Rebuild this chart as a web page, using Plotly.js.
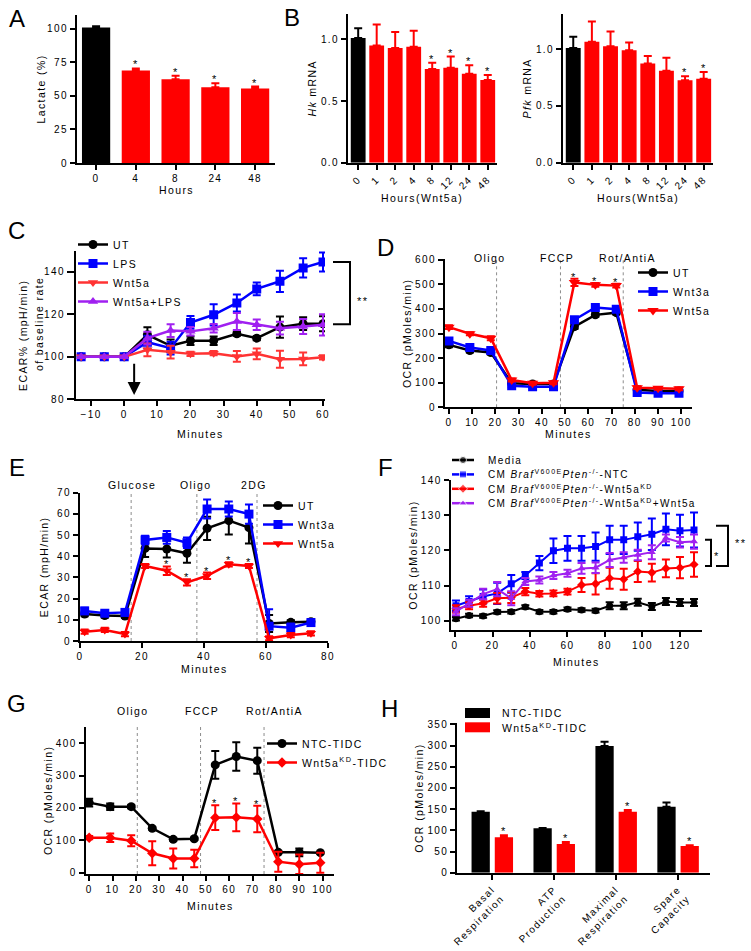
<!DOCTYPE html>
<html><head><meta charset="utf-8">
<script src="https://cdn.plot.ly/plotly-3.0.1.min.js"></script>
<style>html,body{margin:0;padding:0;background:#fff;} #fig{width:751px;height:951px;} svg text{letter-spacing:1.4px;}</style>
</head><body><div id="fig"></div>
<script>
// ---------- DATA ----------
const A_hours = ['0','4','8','24','48'];
const A_lactate = [101, 69, 62.5, 56.5, 55.5];
const A_err = [1, 1.5, 2.5, 3, 1.5];
const A_sig = [0, 1, 1, 1, 1];

const B_hours = ['0','1','2','4','8','12','24','48'];
const B_hk = [1.01, 0.95, 0.93, 0.94, 0.76, 0.77, 0.72, 0.67];
const B_hk_err = [0.08, 0.17, 0.13, 0.13, 0.05, 0.09, 0.07, 0.04];
const B_hk_sig = [0, 0, 0, 0, 1, 1, 1, 1];
const B_pfk = [1.01, 1.065, 1.026, 0.99, 0.874, 0.809, 0.727, 0.739];
const B_pfk_err = [0.10, 0.18, 0.13, 0.07, 0.065, 0.115, 0.035, 0.06];
const B_pfk_sig = [0, 0, 0, 0, 0, 0, 1, 1];

const C_min = [-13, -6, 0, 7, 14, 20, 27, 34, 40, 47, 54, 60];
const C_UT = [100, 100, 100, 110.4, 105.2, 107.6, 107.6, 110.9, 108.8, 114, 115.6, 115.6];
const C_UT_err = [0, 0, 0, 3.5, 3, 2, 2, 1, 1, 5, 3, 3.5];
const C_LPS = [100, 100, 100, 106.9, 104.1, 116.2, 119.8, 125.4, 132, 135.6, 141.9, 144.7];
const C_LPS_err = [0, 0, 0, 3, 3, 3, 5, 4, 3, 5, 4.5, 4.5];
const C_W5 = [100, 100, 100, 103.3, 102.2, 101.4, 101.7, 100.2, 101.4, 98.9, 99, 99.8];
const C_W5_err = [0, 0, 0, 3, 3, 1, 1, 2.5, 2.5, 4, 3, 1];
const C_W5L = [100, 100, 100, 108.8, 112.4, 112, 113.5, 116.7, 115.1, 113.5, 114.3, 115.1];
const C_W5L_err = [0, 0, 0, 3, 3, 2, 2, 4, 2.5, 3, 3.5, 5];

const D_min = [0, 9, 18, 27, 36, 45, 54, 63, 72, 81, 90, 99];
const D_UT = [254, 231, 223, 98, 95, 95, 328, 376, 385, 71, 66, 66];
const D_UT_err = [10, 8, 8, 8, 8, 8, 10, 8, 8, 6, 5, 5];
const D_W3 = [270, 243, 231, 88, 84, 84, 356, 406, 399, 60, 57, 57];
const D_W3_err = [8, 8, 8, 6, 6, 6, 8, 8, 6, 6, 6, 6];
const D_W5 = [326, 299, 281, 111, 98, 100, 508, 498, 495, 80, 77, 75];
const D_W5_err = [8, 6, 8, 6, 6, 6, 15, 8, 8, 6, 6, 6];
const D_sig = [0, 0, 0, 0, 0, 0, 1, 1, 1, 0, 0, 0];
const D_inject = [20.5, 48, 75];
const D_labels = ['Oligo', 'FCCP', 'Rot/AntiA'];
const D_labelPos = [17.7, 46.3, 76.8];

const E_min = [1.5, 8, 14.5, 21, 28, 34.5, 41, 48, 54.5, 61, 68, 74.5];
const E_UT = [12.7, 12, 11.8, 43.7, 43.4, 41.4, 53.2, 56.8, 53.5, 8.3, 8.8, 9.1];
const E_UT_err = [1, 1, 1, 4, 4, 4.5, 5.5, 6.5, 7.5, 4, 1, 1];
const E_W3 = [14.2, 13.1, 13.5, 47.7, 48.9, 46.4, 62.3, 62.3, 59.9, 7, 6.3, 8.7];
const E_W3_err = [1.5, 1, 1.5, 2, 3, 2.5, 4.5, 3.5, 4.5, 8, 2, 1];
const E_W5 = [4.4, 5.2, 3.3, 35.4, 33.2, 27.7, 30.8, 36.2, 35.4, 1.3, 2.8, 3.6];
const E_W5_err = [1, 1, 1, 1, 2, 1.5, 1.5, 1, 1, 1, 1, 1];
const E_sig = [0, 0, 0, 0, 1, 1, 1, 1, 1, 0, 0, 0];
const E_inject = [16.5, 37.7, 57.1];
const E_labels = ['Glucose', 'Oligo', '2DG'];
const E_labelPos = [16.7, 37.5, 56.2];

const F_min = [0.5, 7.5, 15, 22.5, 30, 37.5, 45, 52.5, 60, 67.5, 75, 82.5, 90, 97.5, 105, 112.5, 120, 127.5];
const F_media = [100.6, 101.5, 101.4, 102.5, 102.6, 103.9, 102.6, 102.6, 103.3, 103.1, 102.9, 104.3, 104.3, 105.3, 104.1, 105.5, 105.2, 105.2];
const F_media_err = [0.5, 0.5, 0.5, 0.5, 0.5, 0.5, 0.5, 0.5, 0.5, 0.5, 0.5, 1, 1, 1, 1, 1, 1, 1];
const F_NTC = [104.3, 105.5, 106.9, 107.8, 110.5, 112.9, 116.4, 119.9, 120.6, 120.6, 121.1, 123, 123, 123.9, 124.6, 126, 125.6, 125.8];
const F_NTC_err = [1.5, 1.5, 2, 3, 2.5, 1, 2, 3.5, 3.5, 3.5, 4, 4, 4, 4, 4.5, 4.5, 4.5, 5];
const F_KD = [103.4, 104.3, 105, 106.4, 106.6, 108.3, 107.7, 107.8, 108.3, 110.2, 110.5, 112.1, 111.8, 114, 113.7, 114.9, 115.1, 116];
const F_KD_err = [1, 1, 1, 1.5, 1.5, 1, 0.8, 0.8, 0.8, 2, 3, 3, 3, 3, 2.5, 2.5, 3, 3.5];
const F_KDW5 = [102.6, 105, 107.6, 109, 106.4, 111.2, 111.6, 112.9, 113.5, 114.9, 115.1, 117.3, 118, 118.7, 119.5, 123.5, 122.3, 122.5];
const F_KDW5_err = [1, 1, 1.5, 2, 2, 1, 1, 1, 1, 1.5, 1.5, 2, 1.5, 1.5, 2, 1, 1.5, 2];
const F_names = ['Media',
  'CM <i>Braf</i><sup>V600E</sup><i>Pten</i><sup>-/-</sup>-NTC',
  'CM <i>Braf</i><sup>V600E</sup><i>Pten</i><sup>-/-</sup>-Wnt5a<sup>KD</sup>',
  'CM <i>Braf</i><sup>V600E</sup><i>Pten</i><sup>-/-</sup>-Wnt5a<sup>KD</sup>+Wnt5a'];

const G_min = [0, 9, 18, 27, 36, 45, 54, 63, 72, 81, 90, 99];
const G_NTC = [216.5, 204, 204, 137, 103, 105, 333, 359, 346, 63, 63, 62];
const G_NTC_err = [12, 10, 5, 4, 4, 4, 43, 44, 40, 3, 12, 3];
const G_KD = [108, 108, 99, 60, 44, 44, 170, 171, 166, 34, 26, 31];
const G_KD_err = [5, 13, 17, 37, 31, 27, 38, 43, 41, 31, 30, 31];
const G_sig = [0, 0, 0, 0, 0, 0, 1, 1, 1, 0, 0, 0];
const G_inject = [20.6, 47.7, 74.9];
const G_labels = ['Oligo', 'FCCP', 'Rot/AntiA'];
const G_labelPos = [18.8, 48.4, 79.5];

const H_cats = ['Basal<br>Respiration', 'ATP<br>Production', 'Maximal<br>Respiration', 'Spare<br>Capacity'];
const H_NTC = [144, 104.6, 298.9, 155.7];
const H_NTC_err = [1, 1, 10, 10];
const H_KD = [83.4, 67.6, 144, 62.9];
const H_KD_err = [5, 5, 4, 2];
const H_sig = [1, 1, 1, 1];
const H_names = ['NTC-TIDC', 'Wnt5a<sup>KD</sup>-TIDC'];

// ---------- LAYOUT HELPERS ----------
const W = 751, HT = 951;
const FONT = 'Liberation Sans, Arial, Helvetica, sans-serif';
const px = x => x / W;
const py = y => 1 - y / HT;
const BLACK = '#000000', RED = '#ff0000', BLUE = '#0000ff', PURPLE = '#a020f0', LRED = '#ff3333';

const PANELS = {
  A: {x: [77, 275], y: [15, 163], xr: [-0.48, 4.5], yr: [0, 110.4]},
  B1: {x: [348, 497], y: [14, 162.7], xr: [-0.55, 7.5], yr: [0, 1.205]},
  B2: {x: [563, 713], y: [14, 162.7], xr: [-0.55, 7.5], yr: [0, 1.31]},
  C: {x: [76, 325], y: [250.7, 399.3], xr: [-14.55, 60.6], yr: [80, 150]},
  D: {x: [445, 692], y: [259.3, 407.3], xr: [-1.7, 104.6], yr: [0, 602]},
  E: {x: [80, 328], y: [492.7, 641], xr: [0, 80], yr: [0, 70]},
  F: {x: [450.7, 701.7], y: [480, 630], xr: [-2.3, 131.6], yr: [97.4, 140]},
  G: {x: [85.7, 334.3], y: [726.7, 874], xr: [-1.5, 105], yr: [-4, 451]},
  H: {x: [457.3, 710], y: [723.3, 872.7], xr: [-0.56, 3.52], yr: [0, 352.5]}
};
function valY(p, v) { const P = PANELS[p]; const f = (v - P.yr[0]) / (P.yr[1] - P.yr[0]); return py(P.y[1] - f * (P.y[1] - P.y[0])); }

function xax(p, n, extra) {
  const P = PANELS[p];
  return Object.assign({domain: [px(P.x[0]), px(P.x[1])], range: P.xr, anchor: 'y' + n,
    showline: true, linecolor: BLACK, linewidth: 2, ticks: 'outside', ticklen: 5, tickwidth: 2, tickcolor: BLACK,
    showgrid: false, zeroline: false, tickfont: {size: 10, color: BLACK, family: FONT}, fixedrange: true}, extra || {});
}
function yax(p, n, extra) {
  const P = PANELS[p];
  return Object.assign({domain: [py(P.y[1]), py(P.y[0])], range: P.yr, anchor: 'x' + n,
    showline: true, linecolor: BLACK, linewidth: 2, ticks: 'outside', ticklen: 5, tickwidth: 2, tickcolor: BLACK,
    showgrid: false, zeroline: false, tickfont: {size: 10, color: BLACK, family: FONT}, fixedrange: true}, extra || {});
}
const ttl = (t, s) => ({text: t, font: {size: s || 10.5, color: BLACK, family: FONT}});

const traces = [];
const annotations = [];
const shapes = [];

function text(x, y, t, opts) {
  annotations.push(Object.assign({xref: 'paper', yref: 'paper', x: px(x), y: py(y), text: t, showarrow: false,
    font: {size: 10.5, color: BLACK, family: FONT}}, opts || {}));
}

function barPair(cats, vals, errs, n, w) {
  const zeros = errs.map(() => 0);
  traces.push({type: 'bar', x: cats.slice(0, 1), y: vals.slice(0, 1), width: w, xaxis: 'x' + n, yaxis: 'y' + n,
    marker: {color: BLACK}, showlegend: false, hoverinfo: 'skip',
    error_y: {type: 'data', symmetric: false, array: errs.slice(0, 1), arrayminus: zeros.slice(0, 1), color: BLACK, thickness: 2, width: 4}});
  traces.push({type: 'bar', x: cats.slice(1), y: vals.slice(1), width: w, xaxis: 'x' + n, yaxis: 'y' + n,
    marker: {color: RED}, showlegend: false, hoverinfo: 'skip',
    error_y: {type: 'data', symmetric: false, array: errs.slice(1), arrayminus: zeros.slice(1), color: RED, thickness: 2, width: 4}});
}
// xs given as numbers (category index on category axes)
function stars(xs, vals, errs, sig, n, shift) {
  sig.forEach((s, i) => {
    if (s) annotations.push({xref: 'x' + n, yref: 'y' + n, x: xs[i], y: vals[i] + errs[i], text: '*', showarrow: false,
      yanchor: 'bottom', yshift: shift === undefined ? -4 : shift, font: {size: 11, color: BLACK, family: FONT}});
  });
}
function line(xs, ys, errs, n, color, symbol, size, name, legend, lw) {
  traces.push({type: 'scatter', mode: 'lines+markers', x: xs, y: ys, name: name, xaxis: 'x' + n, yaxis: 'y' + n,
    legend: legend || 'legend', showlegend: !!legend, hoverinfo: 'skip',
    line: {color: color, width: lw || 2.5}, marker: {color: color, symbol: symbol, size: size},
    error_y: {type: 'data', array: errs, color: color, thickness: 2, width: 4}});
}
function injections(xs, labels, labelPos, n, labelY) {
  xs.forEach(x => shapes.push({type: 'line', xref: 'x' + n, yref: 'y' + n + ' domain', x0: x, x1: x, y0: 0, y1: 1,
    line: {color: '#8c8c8c', width: 1, dash: 'dot'}, layer: 'below'}));
  labels.forEach((t, i) => annotations.push({xref: 'x' + n, yref: 'paper', x: labelPos[i], y: py(labelY), text: t,
    showarrow: false, font: {size: 10.5, color: BLACK, family: FONT}}));
}
const idx = arr => arr.map((_, i) => i);

// ---------- A ----------
barPair(A_hours, A_lactate, A_err, '', 0.71);
stars(idx(A_hours), A_lactate, A_err, A_sig, '');
// ---------- B ----------
barPair(B_hours, B_hk, B_hk_err, '2', 0.8);
stars(idx(B_hours), B_hk, B_hk_err, B_hk_sig, '2');
barPair(B_hours, B_pfk, B_pfk_err, '3', 0.8);
stars(idx(B_hours), B_pfk, B_pfk_err, B_pfk_sig, '3');
// ---------- C ----------
line(C_min, C_UT, C_UT_err, '4', BLACK, 'circle', 9, 'UT', 'legend');
line(C_min, C_LPS, C_LPS_err, '4', BLUE, 'square', 9, 'LPS', 'legend');
line(C_min, C_W5, C_W5_err, '4', LRED, 'triangle-down', 9, 'Wnt5a', 'legend');
line(C_min, C_W5L, C_W5L_err, '4', PURPLE, 'triangle-up', 9, 'Wnt5a+LPS', 'legend');
// ---------- D ----------
injections(D_inject, D_labels, D_labelPos, '5', 250);
line(D_min, D_UT, D_UT_err, '5', BLACK, 'circle', 9, 'UT', 'legend2');
line(D_min, D_W3, D_W3_err, '5', BLUE, 'square', 9, 'Wnt3a', 'legend2');
line(D_min, D_W5, D_W5_err, '5', RED, 'triangle-down', 10, 'Wnt5a', 'legend2');
stars(D_min, D_W5, D_W5_err, D_sig, '5', -6);
// ---------- E ----------
injections(E_inject, E_labels, E_labelPos, '6', 485);
line(E_min, E_UT, E_UT_err, '6', BLACK, 'circle', 9, 'UT', 'legend3');
line(E_min, E_W3, E_W3_err, '6', BLUE, 'square', 9, 'Wnt3a', 'legend3');
line(E_min, E_W5, E_W5_err, '6', RED, 'triangle-down', 9, 'Wnt5a', 'legend3');
stars(E_min, E_W5, E_W5_err, E_sig, '6', -6);
// ---------- F ----------
const F_style = [[BLACK, 'circle'], [BLUE, 'square'], [RED, 'diamond'], [PURPLE, 'triangle-up']];
[[F_media, F_media_err], [F_NTC, F_NTC_err], [F_KD, F_KD_err], [F_KDW5, F_KDW5_err]].forEach((s, i) =>
  line(F_min, s[0], s[1], '7', F_style[i][0], F_style[i][1], 7, F_names[i], null, 2));
// manual legend for F (tight row spacing)
F_names.forEach((nm, i) => {
  const yy = 460 + i * 14.4;
  traces.push({type: 'scatter', mode: 'lines+markers', x: [452, 463, 474], y: [yy, yy, yy], xaxis: 'x10', yaxis: 'y10',
    showlegend: false, hoverinfo: 'skip', line: {color: F_style[i][0], width: 2.5},
    marker: {color: F_style[i][0], symbol: F_style[i][1], size: [0, 7, 0]}});
  text(486, yy, nm, {xanchor: 'left', yanchor: 'middle', font: {size: 10, color: BLACK, family: FONT}});
});
// ---------- G ----------
injections(G_inject, G_labels, G_labelPos, '8', 719);
line(G_min, G_NTC, G_NTC_err, '8', BLACK, 'circle', 9, 'NTC-TIDC', 'legend5');
line(G_min, G_KD, G_KD_err, '8', RED, 'diamond', 8, 'Wnt5a<sup>KD</sup>-TIDC', 'legend5');
stars(G_min, G_KD, G_KD_err, G_sig, '8', -6);
// ---------- H ----------
traces.push({type: 'bar', x: H_cats, y: H_NTC, name: H_names[0], offset: -0.33, width: 0.295, xaxis: 'x9', yaxis: 'y9',
  showlegend: false, marker: {color: BLACK}, hoverinfo: 'skip',
  error_y: {type: 'data', symmetric: false, array: H_NTC_err, arrayminus: H_NTC_err.map(() => 0), color: BLACK, thickness: 2, width: 4}});
traces.push({type: 'bar', x: H_cats, y: H_KD, name: H_names[1], offset: 0.045, width: 0.295, xaxis: 'x9', yaxis: 'y9',
  showlegend: false, marker: {color: RED}, hoverinfo: 'skip',
  error_y: {type: 'data', symmetric: false, array: H_KD_err, arrayminus: H_KD_err.map(() => 0), color: RED, thickness: 2, width: 4}});
stars(H_cats.map((c, i) => i + 0.19), H_KD, H_KD_err, H_sig, '9');
[BLACK, RED].forEach((c, i) => {
  const yy = 713 + i * 14.3;
  shapes.push({type: 'rect', xref: 'paper', yref: 'paper', x0: px(465), x1: px(490), y0: py(yy + 5), y1: py(yy - 5),
    fillcolor: c, line: {width: 0}});
  text(500, yy, H_names[i], {xanchor: 'left', yanchor: 'middle'});
});

// ---------- brackets ----------
function bracket(xLeft, xRight, v0, v1, p) {
  const ya = valY(p, v0), yb = valY(p, v1);
  shapes.push({type: 'path', xref: 'paper', yref: 'paper',
    path: `M ${px(xLeft)} ${ya} L ${px(xRight)} ${ya} L ${px(xRight)} ${yb} L ${px(xLeft)} ${yb}`,
    line: {color: BLACK, width: 2}});
}
bracket(333, 350, C_LPS[C_LPS.length - 1], C_UT[C_UT.length - 1] - 0.2, 'C');
annotations.push({xref: 'paper', yref: 'paper', x: px(355), y: valY('C', (C_LPS[11] + C_UT[11]) / 2), text: '**', showarrow: false, xanchor: 'left', font: {size: 11, family: FONT}});
bracket(705, 711, F_KDW5[F_KDW5.length - 1] + 0.5, F_KD[F_KD.length - 1] - 0.4, 'F');
annotations.push({xref: 'paper', yref: 'paper', x: px(712), y: valY('F', 118.3), text: '*', showarrow: false, xanchor: 'left', font: {size: 11, family: FONT}});
bracket(716, 728, F_NTC[F_NTC.length - 1] + 1.2, F_KD[F_KD.length - 1] - 0.4, 'F');
annotations.push({xref: 'paper', yref: 'paper', x: px(733), y: valY('F', 122), text: '**', showarrow: false, xanchor: 'left', font: {size: 11, family: FONT}});

// arrow in C
annotations.push({xref: 'x4', yref: 'y4', axref: 'x4', ayref: 'y4', x: 3, y: 82, ax: 3, ay: 97.5, text: '', showarrow: true,
  arrowhead: 2, arrowsize: 1.3, arrowwidth: 2, arrowcolor: BLACK});

// x-axis titles
[['Hours', 176, 190], ['Hours(Wnt5a)', 422, 198], ['Hours(Wnt5a)', 638, 198], ['Minutes', 200, 434], ['Minutes', 568, 434],
 ['Minutes', 204, 669], ['Minutes', 576, 662], ['Minutes', 210, 906]].forEach(([t, x, y]) => text(x, y, t, {xanchor: 'center', yanchor: 'middle'}));
// C y title (two lines)
text(23, 336, 'ECAR% (mpH/min)', {textangle: -90, xanchor: 'center', yanchor: 'middle'});
text(39, 324, 'of baseline rate', {textangle: -90, xanchor: 'center', yanchor: 'middle'});

// panel letters
[['A', 17, 19], ['B', 292, 18], ['C', 17, 230], ['D', 386, 248], ['E', 17, 467], ['F', 386, 467], ['G', 17, 703], ['H', 390, 708]]
  .forEach(([t, x, y]) => text(x, y, t, {xanchor: 'center', yanchor: 'middle', font: {size: 24, color: BLACK, family: FONT}}));

const legBase = (x, y, s) => ({x: px(x), y: py(y), xanchor: 'left', yanchor: 'top', bgcolor: 'rgba(0,0,0,0)',
  font: {size: s || 10.5, color: BLACK, family: FONT}, tracegroupgap: 0, itemwidth: 30});

const layout = {
  width: W, height: HT, margin: {l: 0, r: 0, t: 0, b: 0}, paper_bgcolor: '#fff', plot_bgcolor: 'rgba(0,0,0,0)',
  barmode: 'overlay', font: {family: FONT, color: BLACK}, showlegend: true,
  xaxis: xax('A', '', {type: 'category', categoryorder: 'array', categoryarray: A_hours}),
  yaxis: yax('A', '', {dtick: 25, title: ttl('Lactate (%)')}),
  xaxis2: xax('B1', '2', {type: 'category', categoryorder: 'array', categoryarray: B_hours, tickangle: -45}),
  yaxis2: yax('B1', '2', {dtick: 0.5, tickformat: '.1f', title: ttl('<i>Hk</i> mRNA')}),
  xaxis3: xax('B2', '3', {type: 'category', categoryorder: 'array', categoryarray: B_hours, tickangle: -45}),
  yaxis3: yax('B2', '3', {dtick: 0.5, tickformat: '.1f', title: ttl('<i>Pfk</i> mRNA')}),
  xaxis4: xax('C', '4', {tick0: 0, dtick: 10}),
  yaxis4: yax('C', '4', {tick0: 80, dtick: 20, ticklen: 7}),
  xaxis5: xax('D', '5', {tick0: 0, dtick: 10}),
  yaxis5: yax('D', '5', {tick0: 0, dtick: 100, title: ttl('OCR (pMoles/min)')}),
  xaxis6: xax('E', '6', {tick0: 0, dtick: 20}),
  yaxis6: yax('E', '6', {tick0: 0, dtick: 10, title: ttl('ECAR (mpH/min)')}),
  xaxis7: xax('F', '7', {tick0: 0, dtick: 20}),
  yaxis7: yax('F', '7', {tick0: 100, dtick: 10, title: ttl('OCR (pMoles/min)')}),
  xaxis8: xax('G', '8', {tick0: 0, dtick: 10}),
  yaxis8: yax('G', '8', {tick0: 0, dtick: 100, title: ttl('OCR (pMoles/min)')}),
  xaxis9: xax('H', '9', {type: 'category', categoryorder: 'array', categoryarray: H_cats, tickangle: -45}),
  yaxis9: yax('H', '9', {tick0: 0, dtick: 50, title: ttl('OCR (pMoles/min)')}),
  // invisible full-page overlay axes (pixel units) used for hand-drawn legend symbols
  xaxis10: {domain: [0, 1], range: [0, W], visible: false, anchor: 'y10', fixedrange: true},
  yaxis10: {domain: [0, 1], range: [HT, 0], visible: false, anchor: 'x10', fixedrange: true},
  legend: legBase(73, 230),
  legend2: legBase(633, 258),
  legend3: legBase(258, 491),
  legend5: legBase(262, 729),
  annotations: annotations,
  shapes: shapes
};
Plotly.newPlot('fig', traces, layout, {staticPlot: true, displayModeBar: false});
</script></body></html>
